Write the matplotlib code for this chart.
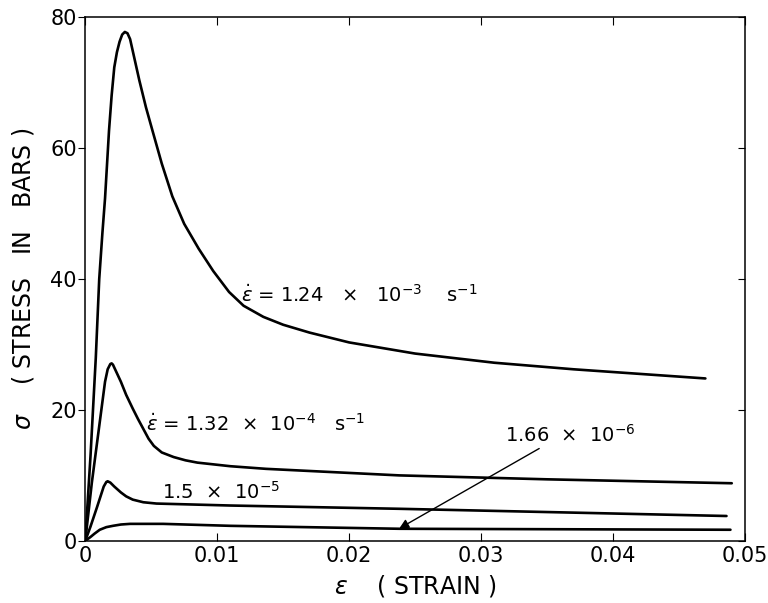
import matplotlib
matplotlib.use("Agg")
import matplotlib.pyplot as plt
import matplotlib.lines as mlines

# strain / stress values
strain_a = [0, 0.0004, 0.0008, 0.00106, 0.0013, 0.0015, 0.0018, 0.0020, 0.0022, 0.0024, 0.0026, 0.0028,
            0.0030, 0.0032, 0.0034, 0.0036, 0.0041, 0.0046, 0.0051, 0.0058, 0.0066, 0.0075, 0.0086,
            0.0097, 0.0109, 0.0120, 0.0135, 0.0150, 0.0170, 0.020, 0.025, 0.031, 0.037, 0.042, 0.047]
stress_a = [0, 13, 28, 40, 47, 52.3, 62.6, 68.0, 72.3, 74.6, 76.2, 77.3,
            77.7, 77.5, 76.6, 74.8, 70.3, 66.2, 62.6, 57.6, 52.6, 48.4, 44.6,
            41.2, 38.0, 35.9, 34.2, 33.0, 31.8, 30.3, 28.6, 27.2, 26.2, 25.5, 24.8]

strain_b = [0, 0.0005, 0.0010, 0.0015, 0.0017, 0.0019, 0.0020, 0.0021, 0.0024, 0.0027, 0.0031,
            0.0036, 0.0040, 0.0044, 0.0048, 0.0052, 0.0058, 0.0067, 0.0076, 0.0085, 0.011, 0.0137,
            0.0238, 0.035, 0.049]
stress_b = [0, 8.9, 16.6, 24.3, 26.2, 27.0, 27.1, 26.9, 25.6, 24.3, 22.3,
            20.2, 18.6, 17.1, 15.6, 14.5, 13.5, 12.8, 12.3, 11.95, 11.4, 11.0,
            10.0, 9.4, 8.8]

strain_c = [0, 0.0004, 0.0009, 0.0014, 0.0016, 0.0017, 0.0019, 0.0022, 0.0027, 0.0031, 0.0036,
            0.0044, 0.0054, 0.011, 0.0238, 0.0486]
stress_c = [0, 2.2, 5.2, 8.3, 9.0, 9.1, 8.9, 8.3, 7.4, 6.8, 6.3,
            5.9, 5.7, 5.4, 4.9, 3.8]

strain_d = [0, 0.0002, 0.0004, 0.0007, 0.0011, 0.0016, 0.0021, 0.0027, 0.0034, 0.0059, 0.011,
            0.0238, 0.0489]
stress_d = [0, 0.3, 0.6, 1.1, 1.7, 2.1, 2.3, 2.5, 2.6, 2.6, 2.3,
            1.85, 1.7]

x_ticks = [0, 0.01, 0.02, 0.03, 0.04, 0.05]
x_tick_labels = ["0", "0.01", "0.02", "0.03", "0.04", "0.05"]
y_ticks = [0, 20, 40, 60, 80]
y_tick_labels = ["0", "20", "40", "60", "80"]

fig = plt.figure(figsize=(7.68, 6.03), dpi=100)
ax = fig.add_axes([0.111, 0.103, 0.859, 0.869])

for xs, ys in [(strain_a, stress_a), (strain_b, stress_b), (strain_c, stress_c), (strain_d, stress_d)]:
    ax.plot(xs, ys, color="black", lw=1.9, solid_joinstyle="round", solid_capstyle="round")

ax.set_xlim(0, 0.05)
ax.set_ylim(0, 80)
ax.set_xticks(x_ticks)
ax.set_xticklabels(x_tick_labels)
ax.set_yticks(y_ticks)
ax.set_yticklabels(y_tick_labels)
ax.tick_params(axis="x", direction="in", top=True, length=6, labelsize=15, pad=4)
ax.tick_params(axis="y", direction="out", right=True, length=5, labelsize=15, pad=1)
# right-hand ticks point into the box
for t in ax.yaxis.get_major_ticks():
    t.tick2line.set_marker(mlines.TICKLEFT)
for s in ax.spines.values():
    s.set_linewidth(1.1)

ax.set_xlabel(r"$\epsilon$    ( STRAIN )", fontsize=17, labelpad=5)
ax.set_ylabel(r"$\sigma$    ( STRESS   IN   BARS )", fontsize=17, labelpad=10)

ax.text(0.0118, 37.6, r"$\dot{\epsilon}$ = 1.24   ×   10$^{-3}$    s$^{-1}$", fontsize=14, va="center")
ax.text(0.0046, 17.8, r"$\dot{\epsilon}$ = 1.32  ×  10$^{-4}$   s$^{-1}$", fontsize=14, va="center")
ax.text(0.0058, 7.5, r"1.5  ×  10$^{-5}$", fontsize=14, va="center")
ax.annotate(r"1.66  ×  10$^{-6}$", xy=(0.0238, 1.9), xytext=(0.0318, 16.2),
            fontsize=14, va="center",
            arrowprops=dict(arrowstyle="-|>", color="black", lw=1.0, shrinkA=0, shrinkB=0,
                            relpos=(0.3, 0.0)))

fig.savefig("out.png", dpi=100)
